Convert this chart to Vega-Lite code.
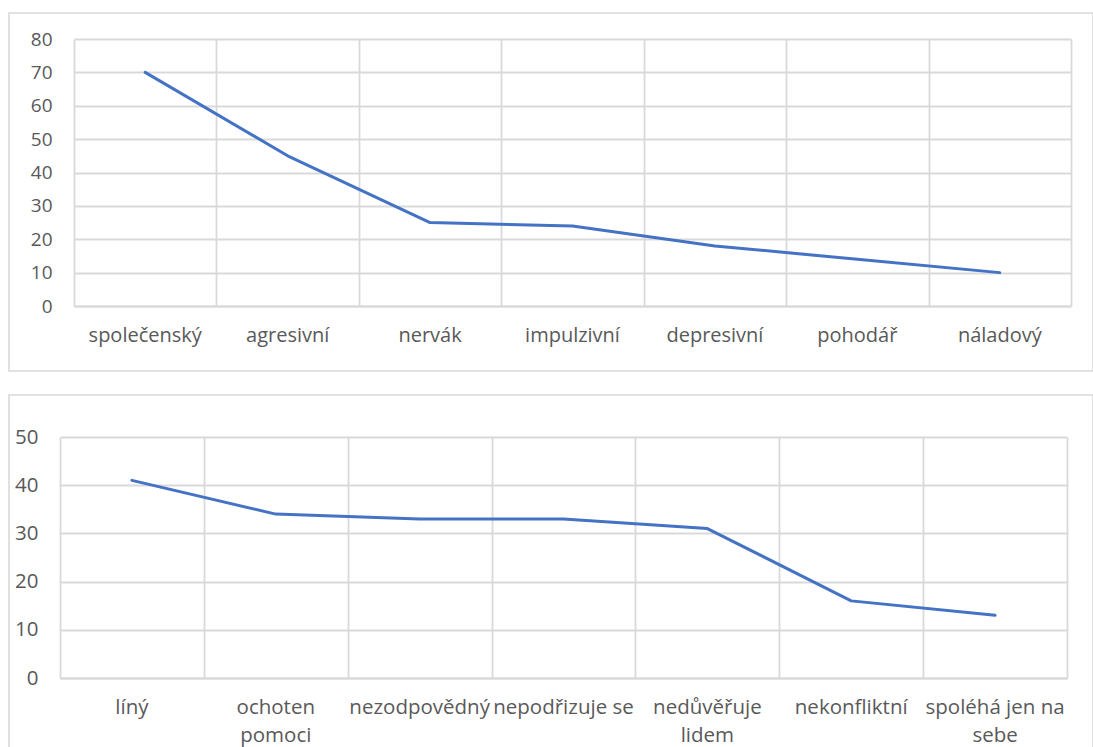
{
  "$schema": "https://vega.github.io/schema/vega-lite/v6.json",
  "padding": {"left": 8, "top": 12, "right": 0, "bottom": 0},
  "background": "white",
  "spacing": 22,
  "config": {
    "view": {"stroke": "#d9d9d9", "strokeWidth": 1.6},
    "font": "Open Sans",
    "axis": {"labelFont": "Open Sans", "labelColor": "#595959", "gridColor": "#d9d9d9", "gridWidth": 1.8, "domainWidth": 1.8, "ticks": false, "title": null}
  },
  "vconcat": [
    {
      "width": 1084,
      "height": 358,
      "data": {"values": [
        {"trait": "společenský", "value": 70},
        {"trait": "agresivní", "value": 45},
        {"trait": "nervák", "value": 25},
        {"trait": "impulzivní", "value": 24},
        {"trait": "depresivní", "value": 18},
        {"trait": "pohodář", "value": 14},
        {"trait": "náladový", "value": 10}
      ]},
      "encoding": {
        "y": {
          "field": "value", "type": "quantitative",
          "scale": {"domain": [0, 80], "range": [293, 26], "nice": false},
          "axis": {"offset": -65, "values": [0, 10, 20, 30, 40, 50, 60, 70, 80], "domain": false, "labelFontSize": 19, "labelPadding": 22}
        }
      },
      "layer": [
        {
          "mark": {"type": "line", "opacity": 0},
          "encoding": {
            "x": {
              "field": "trait", "type": "nominal", "sort": null, "bandPosition": 0.5,
              "scale": {"type": "band", "range": [65, 1062], "paddingInner": 0, "paddingOuter": 0},
              "axis": {"orient": "top", "offset": 0, "tickBand": "extent", "grid": true, "labels": false, "domain": false}
            }
          }
        },
        {
          "mark": {"type": "line", "color": "#4472C4", "strokeWidth": 3, "strokeCap": "round", "strokeJoin": "round"},
          "encoding": {
            "x": {
              "field": "trait", "type": "nominal", "sort": null, "bandPosition": 0.5,
              "axis": {"orient": "bottom", "offset": -65, "grid": false, "domainColor": "#d9d9d9", "labelAngle": 0, "labelFontSize": 20, "labelPadding": 19, "labelOverlap": false, "labelBound": false}
            }
          }
        }
      ],
      "resolve": {"axis": {"x": "independent"}}
    },
    {
      "width": 1084,
      "height": 354,
      "data": {"values": [
        {"trait": "líný", "value": 41},
        {"trait": "ochoten pomoci", "value": 34},
        {"trait": "nezodpovědný", "value": 33},
        {"trait": "nepodřizuje se", "value": 33},
        {"trait": "nedůvěřuje lidem", "value": 31},
        {"trait": "nekonfliktní", "value": 16},
        {"trait": "spoléhá jen na sebe", "value": 13}
      ]},
      "encoding": {
        "y": {
          "field": "value", "type": "quantitative",
          "scale": {"domain": [0, 50], "range": [283, 42], "nice": false},
          "axis": {"offset": -51, "values": [0, 10, 20, 30, 40, 50], "domain": false, "labelFontSize": 20.5, "labelPadding": 22}
        }
      },
      "layer": [
        {
          "mark": {"type": "line", "opacity": 0},
          "encoding": {
            "x": {
              "field": "trait", "type": "nominal", "sort": null, "bandPosition": 0.5,
              "scale": {"type": "band", "range": [51, 1058], "paddingInner": 0, "paddingOuter": 0},
              "axis": {"orient": "top", "offset": 0, "tickBand": "extent", "grid": true, "labels": false, "domain": false}
            }
          }
        },
        {
          "mark": {"type": "line", "color": "#4472C4", "strokeWidth": 3, "strokeCap": "round", "strokeJoin": "round"},
          "encoding": {
            "x": {
              "field": "trait", "type": "nominal", "sort": null, "bandPosition": 0.5,
              "axis": {"orient": "bottom", "offset": -71, "grid": false, "domainColor": "#d9d9d9", "labelAngle": 0, "labelFontSize": 20.5, "labelPadding": 19, "labelLineHeight": 28, "labelOverlap": false, "labelBound": false,
                "labelExpr": "datum.label == 'ochoten pomoci' ? ['ochoten', 'pomoci'] : datum.label == 'nedůvěřuje lidem' ? ['nedůvěřuje', 'lidem'] : datum.label == 'spoléhá jen na sebe' ? ['spoléhá jen na', 'sebe'] : datum.label"}
            }
          }
        }
      ],
      "resolve": {"axis": {"x": "independent"}}
    }
  ]
}
